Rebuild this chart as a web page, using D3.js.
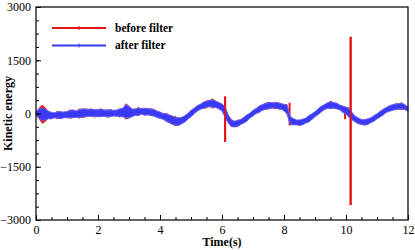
<!DOCTYPE html>
<html>
<head>
<meta charset="utf-8">
<script src="https://cdn.jsdelivr.net/npm/d3@7"></script>
<style>
  body { margin: 0; background: #fff; }
  svg { display: block; }
  svg text { font-family: "Liberation Serif", "Times New Roman", serif; }
</style>
</head>
<body>
<svg width="415" height="250"></svg>
<script>
// sample times (s), every 0.1 s
var times = d3.range(0, 121).map(function (i) { return +(i / 10).toFixed(1); });

// centre of the filtered signal
var center = [
  0, 0, -20, -30, -40, -60, -50, -40, -50, -40,
  -30, -20, -10, -20, 0, 10, 20, 20, 20, 10,
  10, 20, 10, 0, 10, 10, 10, 20, 30, 60,
  40, 20, 40, 50, 60, 50, 50, 40, 20, -20,
  -50, -80, -110, -150, -190, -220, -230, -200, -150, -80,
  0, 70, 140, 190, 230, 260, 280, 280, 260, 220,
  170, 40, -150, -270, -300, -280, -240, -190, -130, -60,
  10, 70, 120, 170, 200, 220, 230, 230, 220, 200,
  170, 110, -200, -230, -250, -260, -240, -200, -150, -90,
  -20, 50, 120, 180, 220, 240, 230, 210, 170, 120,
  80, 20, -80, -160, -210, -240, -250, -230, -190, -140,
  -80, -20, 40, 100, 140, 170, 190, 200, 210, 180,
  120
];

// half width of the noisy blue band
var spread = [
  60, 120, 180, 150, 110, 90, 70, 90, 100, 80,
  90, 100, 110, 90, 110, 120, 100, 100, 110, 90,
  100, 110, 90, 90, 100, 80, 90, 100, 120, 190,
  160, 110, 90, 100, 80, 100, 90, 80, 100, 90,
  90, 80, 100, 110, 120, 100, 110, 90, 90, 80,
  90, 80, 80, 70, 90, 80, 90, 100, 90, 90,
  100, 140, 110, 100, 80, 90, 70, 80, 90, 70,
  80, 70, 90, 80, 90, 80, 80, 70, 90, 80,
  90, 120, 110, 90, 70, 80, 80, 70, 90, 80,
  70, 80, 80, 70, 80, 90, 80, 80, 70, 90,
  100, 120, 100, 80, 80, 70, 80, 80, 70, 80,
  70, 80, 80, 70, 80, 80, 70, 80, 80, 70,
  60
];

// how far the unfiltered (red) noise pokes out beyond the blue band
var redExtra = [
  0, 40, 90, 50, 0, 0, 0, 30, 0, 0,
  0, 30, 0, 0, 30, 0, 30, 0, 0, 30,
  0, 0, 0, 30, 0, 0, 0, 30, 0, 40,
  20, 0, 0, 30, 0, 0, 0, 30, 0, 0,
  0, 0, 30, 0, 0, 40, 0, 0, 0, 0,
  0, 0, 0, 0, 0, 30, 0, 40, 0, 0,
  0, 30, 0, 0, 0, 0, 0, 0, 0, 0,
  0, 0, 0, 0, 0, 30, 0, 30, 0, 0,
  0, 40, 30, 0, 0, 0, 0, 0, 0, 0,
  0, 0, 0, 0, 0, 30, 0, 0, 0, 0,
  0, 30, 0, 0, 0, 0, 0, 0, 0, 0,
  0, 0, 0, 0, 0, 0, 30, 0, 30, 0,
  0
];

// spikes in the unfiltered signal
var spikeTime = [6.1, 8.18, 9.97, 10.15];
var spikeHigh = [480, 300, 120, 2160];
var spikeLow = [-800, -330, -160, -2580];

var xTicks = [0, 2, 4, 6, 8, 10, 12];
var yTicks = [-3000, -1500, 0, 1500, 3000];
var legendNames = ["before filter", "after filter"];

var svg = d3.select("svg");
var mLeft = 36, mRight = 408, mTop = 7, mBottom = 220;

var x = d3.scaleLinear().domain([0, 12]).range([mLeft, mRight]);
var y = d3.scaleLinear().domain([-3000, 3000]).range([mBottom, mTop]);

var red = "#e31414", blue = "#3a3af6";

// red band (behind)
var redArea = d3.area()
    .x(function (d, i) { return x(times[i]); })
    .y0(function (d, i) { return y(center[i] - spread[i] - redExtra[i]); })
    .y1(function (d, i) { return y(center[i] + spread[i] + redExtra[i]); });

svg.append("path")
    .datum(times)
    .attr("fill", red)
    .attr("d", redArea);

// red spikes
svg.selectAll(".spike")
    .data(spikeTime)
    .enter().append("line")
    .attr("class", "spike")
    .attr("x1", function (d) { return x(d); })
    .attr("x2", function (d) { return x(d); })
    .attr("y1", function (d, i) { return y(spikeHigh[i]); })
    .attr("y2", function (d, i) { return y(spikeLow[i]); })
    .attr("stroke", red)
    .attr("stroke-width", 2);

// blue band
var blueArea = d3.area()
    .x(function (d, i) { return x(times[i]); })
    .y0(function (d, i) { return y(center[i] - spread[i]); })
    .y1(function (d, i) { return y(center[i] + spread[i]); });

svg.append("path")
    .datum(times)
    .attr("fill", blue)
    .attr("stroke", "#6a6af8")
    .attr("stroke-width", 1)
    .attr("d", blueArea);

// redraw the big spikes on top of the blue
svg.selectAll(".spikeTop")
    .data([0, 3])
    .enter().append("line")
    .attr("x1", function (i) { return x(spikeTime[i]); })
    .attr("x2", function (i) { return x(spikeTime[i]); })
    .attr("y1", function (i) { return y(spikeHigh[i]); })
    .attr("y2", function (i) { return y(spikeLow[i]); })
    .attr("stroke", red)
    .attr("stroke-width", 2)
    .attr("opacity", 0.85);

// axes, ticks inward
function noDomain(g) {
    g.select(".domain").remove();
    g.attr("font-family", "Liberation Serif").attr("font-size", 12);
}

svg.append("g")
    .attr("transform", "translate(0," + mBottom + ")")
    .call(d3.axisBottom(x).tickValues(d3.range(0, 12.01, 0.5)).tickSize(-3).tickFormat(""))
    .call(noDomain);
svg.append("g")
    .attr("transform", "translate(0," + mBottom + ")")
    .call(d3.axisBottom(x).tickValues(xTicks).tickSize(-5).tickPadding(5).tickFormat(d3.format("d")))
    .call(noDomain);

svg.append("g")
    .attr("transform", "translate(" + mLeft + ",0)")
    .call(d3.axisLeft(y).tickValues(d3.range(-3000, 3001, 375)).tickSize(-3).tickFormat(""))
    .call(noDomain);
svg.append("g")
    .attr("transform", "translate(" + mLeft + ",0)")
    .call(d3.axisLeft(y).tickValues(yTicks).tickSize(-5).tickPadding(5).tickFormat(d3.format("d")))
    .call(noDomain);

svg.selectAll(".tick text").attr("fill", "#000");
svg.selectAll(".tick line").attr("stroke", "#000");

// frame
svg.append("rect")
    .attr("x", mLeft).attr("y", mTop)
    .attr("width", mRight - mLeft).attr("height", mBottom - mTop)
    .attr("fill", "none")
    .attr("stroke", "#111")
    .attr("stroke-width", 1.3);

// axis titles
svg.append("text")
    .attr("transform", "translate(8," + ((mTop + mBottom) / 2) + ") rotate(-90)")
    .attr("text-anchor", "middle")
    .attr("dy", "0.35em")
    .attr("font-weight", "bold")
    .attr("font-size", 12)
    .text("Kinetic energy");

svg.append("text")
    .attr("x", (mLeft + mRight) / 2)
    .attr("y", 246)
    .attr("text-anchor", "middle")
    .attr("font-weight", "bold")
    .attr("font-size", 12)
    .text("Time(s)");

// legend
var legend = svg.selectAll(".legend")
    .data(legendNames)
    .enter().append("g")
    .attr("transform", function (d, i) { return "translate(0," + (28 + i * 17.5) + ")"; });

legend.append("line")
    .attr("x1", 52).attr("x2", 106)
    .attr("stroke", function (d, i) { return i ? blue : red; })
    .attr("stroke-width", 2);
legend.append("line")
    .attr("x1", 79).attr("x2", 79).attr("y1", -2).attr("y2", 2)
    .attr("stroke", function (d, i) { return i ? blue : red; })
    .attr("stroke-width", 1);
legend.append("text")
    .attr("x", 115)
    .attr("dy", "0.32em")
    .attr("font-weight", "bold")
    .attr("font-size", 11.5)
    .text(function (d) { return d; });
</script>
</body>
</html>
